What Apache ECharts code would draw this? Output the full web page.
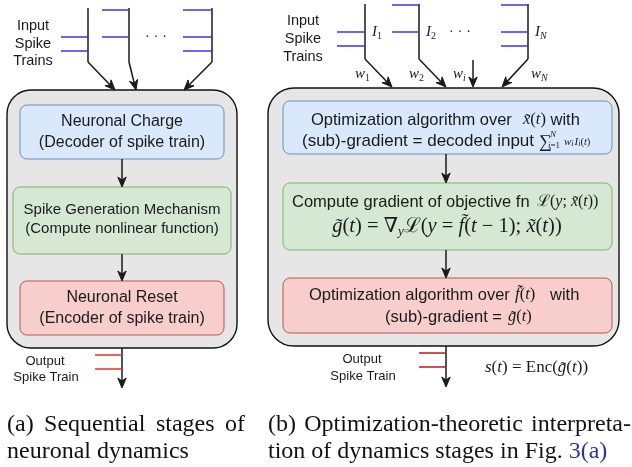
<!DOCTYPE html>
<html><head><meta charset="utf-8">
<script src="https://cdn.jsdelivr.net/npm/echarts@6/dist/echarts.min.js"></script>
<style>html,body{margin:0;padding:0;background:#fff}#c{width:632px;height:467px}</style>
</head><body><div id="c"></div>
<script>
// ---- text content ----
const inputLabel = ['Input', 'Spike', 'Trains'];
const outputLabel = ['Output', 'Spike Train'];
const stagesA = [
  ['Neuronal Charge', '(Decoder of spike train)'],
  ['Spike Generation Mechanism', '(Compute nonlinear function)'],
  ['Neuronal Reset', '(Encoder of spike train)']
];
const stagesBText = ['Optimization algorithm over ', '(sub)-gradient = decoded input', 'Compute gradient of objective fn', '(sub)-gradient = '];
const trainNames = ['1', '2', 'N'];
const weightNames = ['1', '2', 'i', 'N'];
const captionA = [['(a)', 'Sequential', 'stages', 'of'], ['neuronal', 'dynamics']];
const captionB = [['(b)', 'Optimization-theoretic', 'interpreta-'], ['tion', 'of', 'dynamics', 'stages', 'in', 'Fig.', '3(a)']];

// ---- helpers ----
const SANS = '"Liberation Sans", Arial, Helvetica, sans-serif';
const SERIF = '"Liberation Serif", "Times New Roman", serif';
const MATH = '"Liberation Serif", "DejaVu Serif", serif';
const INK = '#1a1a1a';
const ctx = document.createElement('canvas').getContext('2d');
function fontStr(s) { return (s.it ? 'italic ' : '') + s.s + 'px ' + s.f; }
function mw(s) { ctx.font = fontStr(s); return ctx.measureText(s.t).width; }
const S = (t, s = 16, o = {}) => Object.assign({ t, f: SANS, s }, o);
const M = (t, s = 16, o = {}) => Object.assign({ t, f: MATH, s }, o);
const MI = (t, s = 16, o = {}) => Object.assign({ t, f: MATH, s, it: true }, o);
const els = [];
function txt(x, y, t, font, fill, align) {
  els.push({ type: 'text', silent: true, z: 10, style: { x, y, text: t, font, fill: fill || INK, align: align || 'center', verticalAlign: 'middle' } });
}
function run(segs, x, y, anchor) {
  let total = 0;
  segs.forEach(s => { s.w = mw(s); if (s.adv !== false) total += s.w + (s.dx || 0); });
  let cx = anchor === 'center' ? x - total / 2 : x;
  segs.forEach(s => {
    if (s.at !== undefined) cx = s.at;
    txt(cx + (s.dx || 0), y + (s.dy || 0), s.t, fontStr(s), s.fill, 'left');
    if (s.adv !== false) cx += s.w + (s.dx || 0);
  });
}
function rrect(x, y, w, h, r, fill, stroke, lw) {
  els.push({ type: 'rect', silent: true, z: 1, shape: { x, y, width: w, height: h, r }, style: { fill, stroke, lineWidth: lw || 1 } });
}
function line(x1, y1, x2, y2, color, lw) {
  els.push({ type: 'line', silent: true, z: 3, shape: { x1, y1, x2, y2 }, style: { stroke: color || INK, lineWidth: lw || 1.5 } });
}
function arrow(x1, y1, x2, y2) {
  const dx = x2 - x1, dy = y2 - y1, L = Math.hypot(dx, dy), ux = dx / L, uy = dy / L;
  const len = 10, hw = 4.2, notch = 3;
  const bx = x2 - ux * len, by = y2 - uy * len;
  line(x1, y1, x2 - ux * (len - notch), y2 - uy * (len - notch));
  els.push({ type: 'polygon', silent: true, z: 4, shape: { points: [[x2, y2], [bx - uy * hw, by + ux * hw], [x2 - ux * (len - notch), y2 - uy * (len - notch)], [bx + uy * hw, by - ux * hw]] }, style: { fill: INK, stroke: INK, lineWidth: 1 } });
}
function justify(words, x0, x1, y, size, colors) {
  const segs = words.map((w, i) => ({ t: w, f: SERIF, s: size, fill: colors && colors[i] }));
  const ws = segs.map(mw);
  const sum = ws.reduce((a, b) => a + b, 0);
  let gap;
  if (x1 === null) { ctx.font = size + 'px ' + SERIF; gap = ctx.measureText(' ').width; }
  else gap = (x1 - x0 - sum) / (words.length - 1);
  let cx = x0;
  segs.forEach((s, i) => { txt(cx, y, s.t, fontStr(s), s.fill || '#111', 'left'); cx += ws[i] + gap; });
}

// ---- colours ----
const BLUE = ['#dae8fc', '#6c8ebf'], GREEN = ['#d5e8d4', '#82b366'], RED = ['#f8cecc', '#b85450'];
const SPIKE = '#3535f5';

// ================= panel (a) =================
rrect(7, 90, 230, 258, 24, '#e6e6e6', '#111', 1.4);
rrect(20, 105, 204, 54, 7, BLUE[0], BLUE[1]);
rrect(13, 187, 218, 67, 7, GREEN[0], GREEN[1]);
rrect(20, 281, 204, 54, 7, RED[0], RED[1]);
arrow(122, 159, 122, 187);
arrow(122, 254, 122, 281);
txt(122, 122, stagesA[0][0], '16px ' + SANS); txt(122, 143, stagesA[0][1], '16px ' + SANS);
txt(122, 210, stagesA[1][0], '15px ' + SANS); txt(122, 229, stagesA[1][1], '15px ' + SANS);
txt(122, 298, stagesA[2][0], '16px ' + SANS); txt(122, 319, stagesA[2][1], '16px ' + SANS);
// input spikes (a)
[[88, [37, 51], 61], [129, [10, 37], 102], [212, [10, 37, 51], 183]].forEach(([x, ys, xl]) => {
  line(x, 8, x, 62, INK, 1.5);
  ys.forEach(y => line(xl, y, x, y, SPIKE, 1.5));
});
txt(156, 36, '· · ·', '14px ' + SANS);
arrow(88, 62, 115, 90); arrow(129, 62, 136, 90); arrow(212, 62, 184, 90);
inputLabel.forEach((t, i) => txt(33, 26 + i * 17.5, t, '14.5px ' + SANS));
// output (a)
arrow(122, 348, 122, 388);
line(95, 355, 122, 355, '#e53030', 1.5); line(95, 369, 122, 369, '#e53030', 1.5);
txt(45, 361, outputLabel[0], '13px ' + SANS); txt(46, 377, outputLabel[1], '13px ' + SANS);

// ================= panel (b) =================
rrect(268, 88, 351, 258, 26, '#e6e6e6', '#111', 1.4);
rrect(283, 101, 329, 53, 7, BLUE[0], BLUE[1]);
rrect(283, 183, 329, 67, 7, GREEN[0], GREEN[1]);
rrect(283, 278, 329, 55, 7, RED[0], RED[1]);
arrow(446, 154, 446, 183);
arrow(446, 250, 446, 278);
// blue box text
run([S(stagesBText[0], 16.5, { at: 311 }), MI('x̃', 16.5, { at: 523 }), M('(', 16.5), MI('t', 16.5), M(')', 16.5), S(' with', 16.5)], 311, 120, 'left');
run([S(stagesBText[1], 17, { at: 302 }), M('∑', 18, { at: 539, dy: 1 }), MI('N', 9, { at: 550, dy: -6, adv: false }),
  MI('i', 9, { at: 548, dy: 5 }), M('=1', 9, { dy: 5 }), MI('w', 11, { at: 564, dy: 1 }), MI('i', 8, { dy: 3 }),
  MI('I', 11, { dy: 1, dx: 1 }), MI('i', 8, { dy: 3 }), M('(', 10.5, { dy: 1 }), MI('t', 10.5, { dy: 1 }), M(')', 10.5, { dy: 1 })], 302, 141, 'left');
// green box text
run([S(stagesBText[2], 16.5, { at: 292 }), M('ℒ', 16, { at: 537 }), M('(', 16), MI('y', 16), M('; ', 16), MI('x̃', 16), M('(', 16), MI('t', 16), M('))', 16)], 292, 202, 'left');
run([MI('g̃', 20.5), M('(', 20.5), MI('t', 20.5), M(') = ∇', 20.5), MI('y', 13, { dy: 5 }), M('ℒ(', 20.5), MI('y', 20.5), M(' = ', 20.5), MI('f̃', 20.5), M('(', 20.5), MI('t', 20.5),
  M(' − 1); ', 20.5), MI('x̃', 20.5), M('(', 20.5), MI('t', 20.5), M('))', 20.5)], 447, 227, 'center');
// red box text
run([S(stagesBText[0], 16.5, { at: 309 }), MI('f̃', 17, { at: 515 }), M('(', 16.5), MI('t', 16.5), M(')', 16.5), S('with', 16.5, { at: 550 })], 309, 295, 'left');
run([S(stagesBText[3], 16.5, { at: 385 }), MI('g̃', 16.5, { at: 508 }), M('(', 16.5), MI('t', 16.5), M(')', 16.5)], 385, 317, 'left');
// input spikes (b)
[[365, [32, 46], 337], [419, [5, 32], 392], [528, [5, 32, 46], 501]].forEach(([x, ys, xl]) => {
  line(x, 4, x, 59, INK, 1.5);
  ys.forEach(y => line(xl, y, x, y, SPIKE, 1.5));
});
txt(460, 31, '· · ·', '14px ' + SANS);
[372, 426, 535].forEach((x, i) => run([MI('I', 15), MI(trainNames[i], 10, { dy: 4, it: trainNames[i] === 'N' })], x, 32, 'left'));
arrow(365, 59, 392, 87); arrow(419, 59, 446, 87); arrow(473, 60, 473, 87); arrow(528, 59, 502, 87);
[355, 409, 453, 531].forEach((x, i) => run([MI('w', 15), MI(weightNames[i], 10, { dy: 4, it: !/^[0-9]$/.test(weightNames[i]) })], x, 74, 'left'));
inputLabel.forEach((t, i) => txt(303, 21 + i * 18, t, '14.5px ' + SANS));
// output (b)
arrow(446, 346, 446, 387);
line(419, 353, 446, 353, '#c01818', 1.5); line(419, 367, 446, 367, '#c01818', 1.5);
txt(362, 359, outputLabel[0], '13px ' + SANS); txt(363, 376, outputLabel[1], '13px ' + SANS);
run([MI('s', 17), M('(', 17), MI('t', 17), M(') = Enc(', 17), MI('g̃', 17), M('(', 17), MI('t', 17), M('))', 17)], 485, 368, 'left');

// ================= captions =================
justify(captionA[0], 7, 245, 425, 24);
justify(captionA[1], 7, null, 452, 24);
justify(captionB[0], 268, 631, 425, 24);
justify(captionB[1], 268, null, 452, 24, [0, 0, 0, 0, 0, 0, '#26389c']);

const chart = echarts.init(document.getElementById('c'), null, { renderer: 'canvas' });
chart.setOption({ animation: false, backgroundColor: '#ffffff', graphic: { elements: els } });
</script>
</body></html>
